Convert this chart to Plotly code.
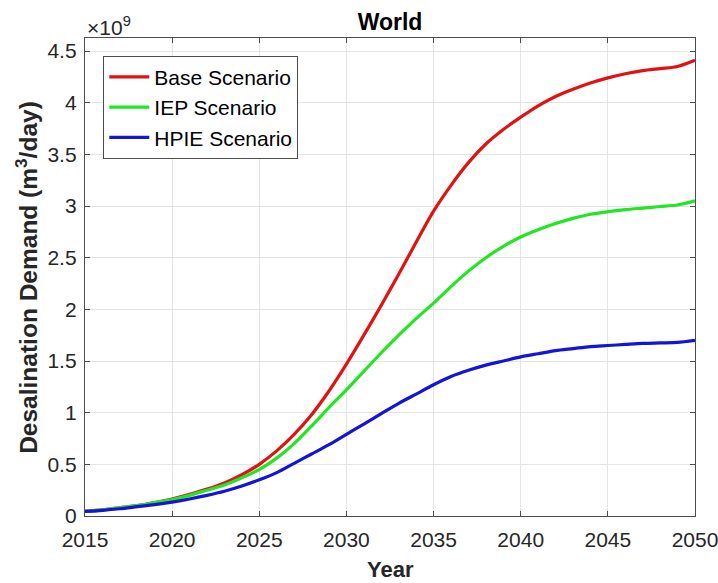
import plotly.graph_objects as go

# Desalination demand projections, world total (units of 1e9 m^3/day)
years = list(range(2015, 2051))

base_scenario = [
    0.045, 0.06, 0.08, 0.10, 0.13, 0.165, 0.21, 0.26, 0.32, 0.40,
    0.50, 0.63, 0.79, 0.98, 1.21, 1.47, 1.75, 2.04, 2.34, 2.65,
    2.95, 3.20, 3.42, 3.60, 3.74, 3.86, 3.97, 4.06, 4.13, 4.19,
    4.24, 4.28, 4.31, 4.33, 4.35, 4.41,
]

iep_scenario = [
    0.045, 0.06, 0.08, 0.10, 0.13, 0.16, 0.20, 0.25, 0.30, 0.37,
    0.45, 0.56, 0.70, 0.87, 1.05, 1.22, 1.40, 1.58, 1.75, 1.91,
    2.06, 2.22, 2.37, 2.50, 2.61, 2.70, 2.77, 2.83, 2.88, 2.92,
    2.945, 2.965, 2.98, 2.995, 3.01, 3.05,
]

hpie_scenario = [
    0.045, 0.055, 0.07, 0.09, 0.11, 0.135, 0.165, 0.20, 0.24, 0.29,
    0.35, 0.42, 0.51, 0.60, 0.69, 0.79, 0.89, 0.99, 1.09, 1.18,
    1.27, 1.35, 1.41, 1.46, 1.50, 1.54, 1.57, 1.60, 1.62, 1.64,
    1.65, 1.66, 1.67, 1.675, 1.68, 1.70,
]

series = [
    ("Base Scenario", base_scenario, "#e01212"),
    ("IEP Scenario", iep_scenario, "#22e622"),
    ("HPIE Scenario", hpie_scenario, "#1414d8"),
]

x_ticks = [2015, 2020, 2025, 2030, 2035, 2040, 2045, 2050]
y_ticks = [0, 0.5, 1, 1.5, 2, 2.5, 3, 3.5, 4, 4.5]

FONT = "Liberation Sans, Arial, sans-serif"
AX = "#4d4d4d"
TXT = "#262626"

fig = go.Figure()
for name, vals, color in series:
    fig.add_trace(go.Scatter(
        x=years, y=vals, mode="lines", name=name,
        line=dict(color=color, width=3.2, shape="spline", smoothing=0.8),
    ))

fig.update_layout(
    width=718, height=583,
    margin=dict(l=85, r=23, t=38, b=67),
    paper_bgcolor="white", plot_bgcolor="white",
    font=dict(family=FONT, size=21, color=TXT),
    title=dict(
        text="<b>World</b>", x=0.5, xref="paper", xanchor="center",
        y=0.963, yref="container", yanchor="middle",
        font=dict(family=FONT, size=23, color="black"),
    ),
    showlegend=True,
    legend=dict(
        x=0.03, y=0.963, xanchor="left", yanchor="top",
        bgcolor="white", bordercolor=AX, borderwidth=1,
        font=dict(family=FONT, size=21, color="black"),
        tracegroupgap=0, itemwidth=40,
    ),
)

axis_common = dict(
    showgrid=True, gridcolor="#e4e4e4", gridwidth=1,
    showline=True, linecolor=AX, linewidth=1.3, mirror="ticks",
    ticks="inside", ticklen=5, tickcolor=AX,
    tickfont=dict(family=FONT, size=21, color=TXT),
    ticklabeloverflow="allow", automargin=False, zeroline=False,
)

fig.update_xaxes(
    range=[2015, 2050], tickvals=x_ticks, ticktext=[str(t) for t in x_ticks],
    ticklabelstandoff=5, **axis_common,
)
fig.update_yaxes(
    range=[0, 4.626], tickvals=y_ticks, ticktext=[f"{t:g}" for t in y_ticks],
    ticklabelstandoff=3, **axis_common,
)

# Axis titles
fig.add_annotation(
    text="<b>Year</b>", xref="paper", yref="paper", x=0.5, y=-0.112,
    xanchor="center", yanchor="middle", showarrow=False,
    font=dict(family=FONT, size=22, color=TXT),
)
fig.add_annotation(
    text="<b>Desalination Demand (m<sup>3</sup>/day)</b>", xref="paper", yref="paper",
    x=-0.097, y=0.5, xanchor="center", yanchor="middle", textangle=-90,
    showarrow=False, font=dict(family=FONT, size=24.5, color=TXT),
)

# Exponent multiplier above the y axis
fig.add_annotation(
    text="×10<sup>9</sup>", xref="paper", yref="paper",
    x=0.0, y=1.0, xanchor="left", yanchor="bottom", yshift=-3,
    showarrow=False, font=dict(family=FONT, size=21, color=TXT),
)

fig.write_html("out.html")
